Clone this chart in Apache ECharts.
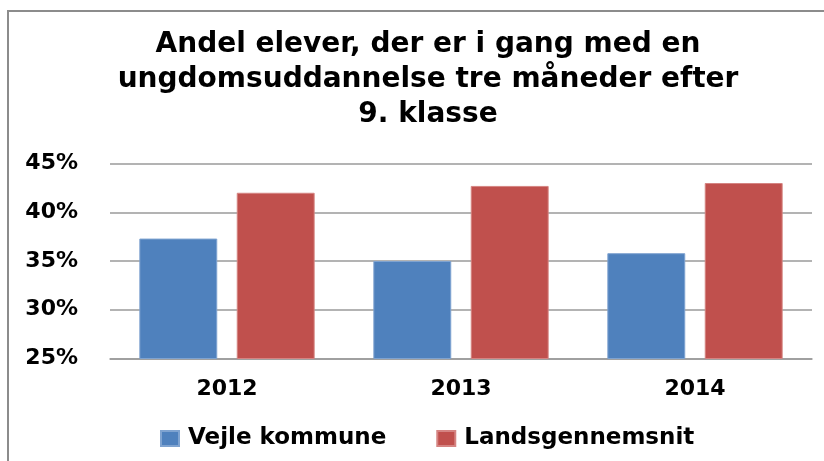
<!DOCTYPE html>
<html>
<head>
<meta charset="utf-8">
<script src="https://cdn.jsdelivr.net/npm/echarts@6/dist/echarts.min.js"></script>
<style>
html,body{margin:0;padding:0;background:#fff;}
#chart{width:824px;height:461px;}
</style>
</head>
<body>
<div id="chart"></div>
<script>
const titleText = "Andel elever, der er i gang med en\nungdomsuddannelse tre måneder efter\n9. klasse";
const categories = ["2012", "2013", "2014"];
const seriesNames = ["Vejle kommune", "Landsgennemsnit"];
const vejle = [37.3, 35.0, 35.8];
const lands = [42.0, 42.7, 43.0];
const yTicks = [25, 30, 35, 40, 45];

const FONT = "DejaVu Sans";
const chart = echarts.init(document.getElementById('chart'), null, {renderer: 'canvas'});
chart.setOption({
  animation: false,
  backgroundColor: '#ffffff',
  graphic: [{
    type: 'rect',
    shape: {x: 8, y: 11, width: 840, height: 470},
    style: {fill: 'none', stroke: '#8c8c8c', lineWidth: 2},
    silent: true, z: -10
  }],
  title: {
    text: titleText,
    left: 423,
    textAlign: 'center',
    top: 22,
    textStyle: {fontFamily: FONT, fontWeight: 'bold', fontSize: 28, lineHeight: 35, color: '#000'}
  },
  legend: {
    left: 155,
    top: 422,
    itemWidth: 18,
    itemHeight: 15,
    itemGap: 50,
    icon: 'rect',
    data: seriesNames,
    textStyle: {fontFamily: FONT, fontWeight: 'bold', fontSize: 23, color: '#000', padding: [0,0,0,4]}
  },
  grid: {left: 110, right: 12, top: 163.5, bottom: 102.5, containLabel: false},
  xAxis: {
    type: 'category',
    data: categories,
    axisLine: {show: true, lineStyle: {color: '#9a9a9a', width: 1.5}},
    axisTick: {show: false},
    axisLabel: {margin: 20, fontFamily: FONT, fontWeight: 'bold', fontSize: 22, color: '#000'}
  },
  yAxis: {
    type: 'value',
    min: yTicks[0],
    max: yTicks[yTicks.length - 1],
    interval: 5,
    axisLine: {show: false},
    axisTick: {show: false},
    splitLine: {lineStyle: {color: '#9a9a9a', width: 1.5}},
    axisLabel: {margin: 32, fontFamily: FONT, fontWeight: 'bold', fontSize: 22, color: '#000',
      formatter: v => v + '%'}
  },
  series: [
    {name: seriesNames[0], type: 'bar', data: vejle, barWidth: '33.3%', barGap: '25%',
      itemStyle: {color: '#4F81BD', borderColor: '#7fa3d0', borderWidth: 1}},
    {name: seriesNames[1], type: 'bar', data: lands, barWidth: '33.3%', barGap: '25%',
      itemStyle: {color: '#C0504D', borderColor: '#d58482', borderWidth: 1}}
  ]
});
</script>
</body>
</html>
